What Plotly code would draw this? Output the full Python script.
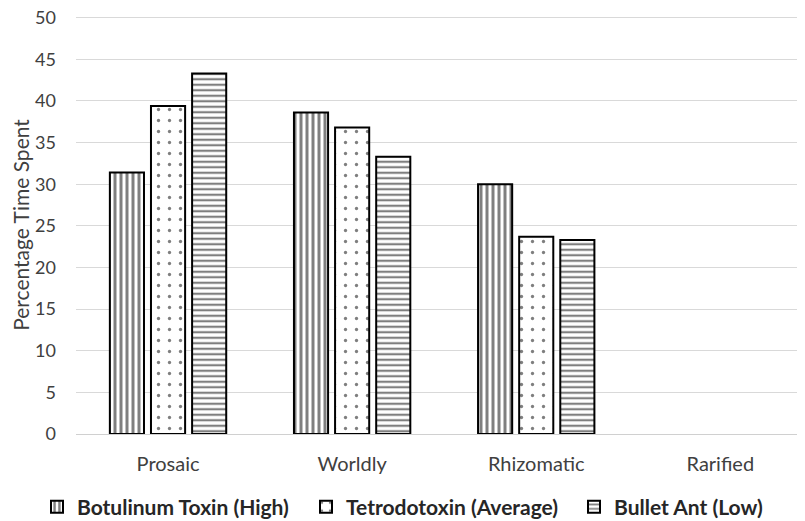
import plotly.graph_objects as go

categories = ["Prosaic", "Worldly", "Rhizomatic", "Rarified"]
botulinum = [31.4, 38.6, 30.0, 0]
tetrodotoxin = [39.4, 36.8, 23.7, 0]
bullet_ant = [43.3, 33.3, 23.3, 0]
series_names = ["Botulinum Toxin (High)", "Tetrodotoxin (Average)", "Bullet Ant (Low)"]
y_ticks = [0, 5, 10, 15, 20, 25, 30, 35, 40, 45, 50]

patterns = [
    dict(shape="|", fgcolor="black", bgcolor="white", size=6, solidity=0.5, fillmode="overlay"),
    dict(shape=".", fgcolor="black", bgcolor="white", size=11, solidity=0.07, fillmode="overlay"),
    dict(shape="-", fgcolor="black", bgcolor="white", size=5.5, solidity=0.4, fillmode="overlay"),
]
legend_ids = ["legend", "legend2", "legend3"]
legend_x_px = [29, 298, 566]

fig = go.Figure()
for name, vals, pat, lid in zip(series_names, [botulinum, tetrodotoxin, bullet_ant], patterns, legend_ids):
    fig.add_trace(go.Bar(
        x=categories, y=vals, name=name, legend=lid,
        marker=dict(color="white", pattern=pat,
                    line=dict(color="black", width=[2 if v > 0 else 0 for v in vals])),
    ))

font_family = "Lato, 'Open Sans', sans-serif"
txt = "#404040"
W, H = 797, 513  # page body has an 8px margin inside the 805x521 window


def legend_box(xpx):
    return dict(orientation="h", xref="container", yref="container",
                x=xpx / W, xanchor="left", y=1 - 499 / H, yanchor="middle",
                font=dict(size=21, color="#262626", family=font_family, weight="bold"),
                itemwidth=30, bgcolor="rgba(0,0,0,0)")


fig.update_layout(
    width=W, height=H,
    margin=dict(l=68, r=0, t=8, b=87, autoexpand=False),
    plot_bgcolor="white", paper_bgcolor="white",
    barmode="group", bargap=0.33, bargroupgap=0.17,
    font=dict(family=font_family, size=18, color=txt),
    showlegend=True,
    legend=legend_box(legend_x_px[0]),
    legend2=legend_box(legend_x_px[1]),
    legend3=legend_box(legend_x_px[2]),
    xaxis=dict(range=[-0.5, 3.46], showgrid=False, showline=True, linecolor="#d0d0d0",
               linewidth=1, ticks="", tickfont=dict(size=20, color=txt), ticklabelstandoff=12),
    yaxis=dict(range=[0, 50.2], tickvals=y_ticks, showgrid=True, gridcolor="#d9d9d9", gridwidth=1,
               zeroline=False, showline=False, ticks="", ticklabeloverflow="allow",
               tickfont=dict(size=18, color=txt), ticklabelstandoff=19,
               title=dict(text="Percentage Time Spent", font=dict(size=21, color=txt), standoff=5)),
)

fig.write_html("out.html")
